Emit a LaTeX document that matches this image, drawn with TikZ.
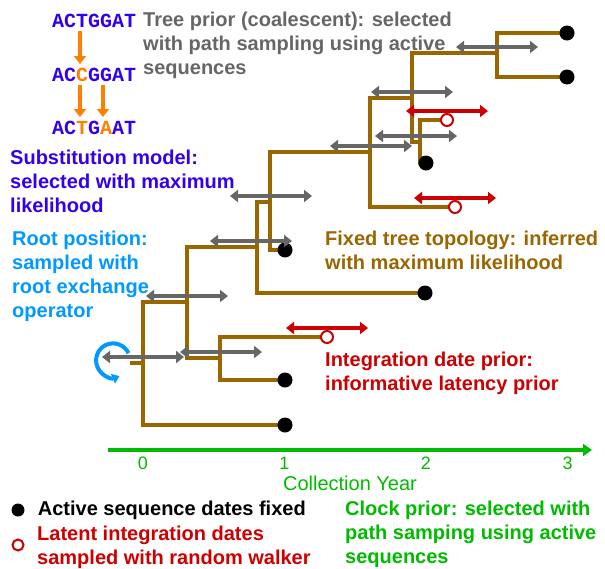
\documentclass[tikz,border=0pt]{standalone}
\usepackage{fontspec}
\setmainfont{Liberation Sans}
\setmonofont{Liberation Mono}
\usepackage{tikz}
\usetikzlibrary{arrows.meta,positioning}
\definecolor{SeqBlue}{HTML}{3300EE}
\definecolor{RootBlue}{HTML}{0099FF}
\definecolor{TreeBrown}{HTML}{996600}
\definecolor{OpGray}{HTML}{666666}
\definecolor{LatRed}{HTML}{CC0000}
\definecolor{ClockGreen}{HTML}{00BB00}
\definecolor{MutOrange}{HTML}{FF8000}

\begin{document}
\begin{tikzpicture}[x=1pt, y=-1pt, every node/.style={font=\bfseries\fontsize{20}{24}\selectfont, inner sep=0pt}]
\tikzstyle{branch}=[draw=TreeBrown, line width=4pt]
\tikzstyle{tip}=[circle, fill=black, minimum size=15pt]
\tikzstyle{latent}=[circle, draw=LatRed, line width=2pt, fill=white, minimum size=12pt]
\tikzstyle{swap}=[draw=OpGray, line width=4pt, {Triangle[length=8pt,width=12pt]}-{Triangle[length=8pt,width=12pt]}]
\tikzstyle{walk}=[swap, draw=LatRed, fill=LatRed]
\tikzstyle{mut}=[draw=MutOrange, line width=4pt, -{Triangle[length=8pt,width=12pt]}]
\tikzstyle{note}=[anchor=base west, align=left]
\tikzstyle{tick}=[font=\fontsize{18}{20}\selectfont, text=ClockGreen]
\useasboundingbox (0,0) rectangle (605,568);

% substitution example
\node[anchor=west, font=\ttfamily\bfseries\fontsize{20}{24}\selectfont, text=SeqBlue] (seqA) at (52,21) {ACTGGAT};
\node[anchor=west, font=\ttfamily\bfseries\fontsize{20}{24}\selectfont, text=SeqBlue] (seqB) at (52,75) {AC{\color{MutOrange}C}GGAT};
\node[anchor=west, font=\ttfamily\bfseries\fontsize{20}{24}\selectfont, text=SeqBlue] (seqC) at (52,128) {AC{\color{MutOrange}T}G{\color{MutOrange}A}AT};
\draw[mut] ([xshift=28pt,yshift=-3pt]seqA.south west) -- ([xshift=28pt,yshift=4pt]seqB.north west);
\draw[mut] ([xshift=28pt,yshift=-3pt]seqB.south west) -- ([xshift=28pt,yshift=4pt]seqC.north west);
\draw[mut] ([xshift=51pt,yshift=-3pt]seqB.south west) -- ([xshift=51pt,yshift=4pt]seqC.north west);

% tree
\coordinate (stub) at (130,363);
\coordinate (R) at (143,363);
\coordinate (A) at (187,302);
\coordinate (B) at (257,247);
\coordinate (C) at (220,358);
\coordinate (D) at (270,202);
\coordinate (E) at (370,152);
\coordinate (F) at (412,98);
\coordinate (G) at (497,53);
\coordinate (H) at (420,142);
\coordinate (t1) at (285,425);
\coordinate (t2) at (285,380);
\coordinate (t3) at (425,293);
\coordinate (t4) at (285,250);
\coordinate (t5) at (567,33);
\coordinate (t6) at (567,77);
\coordinate (t7) at (426,163);
\coordinate (l1) at (327,337);
\coordinate (l2) at (455,207);
\coordinate (l3) at (447,120);
\draw[branch] (stub) -- (R);
\draw[branch] (R) |- (A);
\draw[branch] (R) |- (t1);
\draw[branch] (A) |- (B);
\draw[branch] (A) |- (C);
\draw[branch] (C) |- (l1);
\draw[branch] (C) |- (t2);
\draw[branch] (B) |- (D);
\draw[branch] (B) |- (t3);
\draw[branch] (D) |- (E);
\draw[branch] (D) |- (t4);
\draw[branch] (E) |- (F);
\draw[branch] (E) |- (l2);
\draw[branch] (F) |- (G);
\draw[branch] (F) |- (H);
\draw[branch] (G) |- (t5);
\draw[branch] (G) |- (t6);
\draw[branch] (H) |- (l3);
\draw[branch] (H) |- (t7);
\foreach \t in {t1,t2,t3,t4,t5,t6,t7}
  \node[tip] (dot\t) at (\t) {};
\foreach \l in {l1,l2,l3}
  \node[latent] (ring\l) at (\l) {};

% root exchange
\draw[draw=RootBlue, line width=4pt, -{Triangle[length=7pt,width=10pt]}] ([shift={(-14.5,-9.8)}]R) arc[start angle=-25, end angle=-292, radius=17];

% operators
\foreach \n/\dx in {R/0,A/0,B/-6,C/1,D/1,E/1,F/0,G/0,H/-4}
  \draw[swap] ([shift={(\dx-41,-6)}]\n) -- ([shift={(\dx+41,-6)}]\n);
\foreach \l in {l1,l2,l3}
  \draw[walk] ([shift={(-41,-9)}]\l) -- ([shift={(41,-9)}]\l);

% time axis
\coordinate (ax0) at (108,450);
\coordinate (ax1) at (592,450);
\draw[draw=ClockGreen, line width=4pt, -{Triangle[length=9pt,width=12pt]}] (ax0) -- (ax1);
\foreach \k in {0,1,2,3}
  \node[tick] (yr\k) at (143+141.5*\k,463) {\k};
\node[font=\fontsize{20}{24}\selectfont, text=ClockGreen] (axlabel) at (350,483) {Collection Year};

% notes (base = last line)
\node[note, text=OpGray] (treeprior) at (143,74) {Tree prior (coalescent): selected\\with path sampling using active\\sequences};
\node[note, text=SeqBlue] (substmodel) at (10,212) {Substitution model:\\selected with maximum\\likelihood};
\node[note, text=RootBlue] (rootpos) at (12,317) {Root position:\\sampled with\\root exchange\\operator};
\node[note, text=TreeBrown] (topology) at (325,269) {Fixed tree topology: inferred\\with maximum likelihood};
\node[note, text=LatRed] (intprior) at (325,390) {Integration date prior:\\informative latency prior};
\node[note, text=ClockGreen] (clockprior) at (345,563) {Clock prior: selected with\\path samping using active\\sequences};

% legend
\node[circle, fill=black, minimum size=13pt] (keydot) at (18,510) {};
\node[note, right=13pt of keydot.east, anchor=west] (keyactive) {Active sequence dates fixed};
\node[circle, draw=LatRed, line width=2pt, minimum size=11pt] (keyring) at (18,545) {};
\node[note, text=LatRed] (keylatent) at (37,564) {Latent integration dates\\sampled with random walker};
\end{tikzpicture}
\end{document}
